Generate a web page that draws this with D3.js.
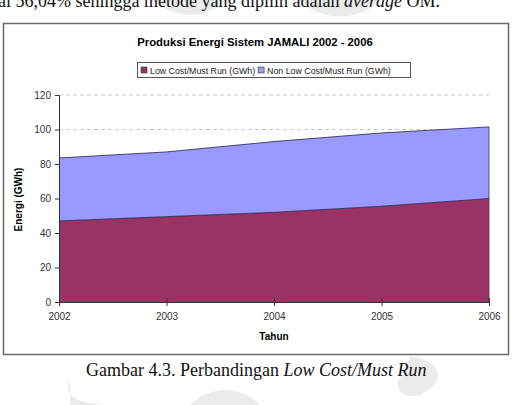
<!DOCTYPE html>
<html>
<head>
<meta charset="utf-8">
<script src="https://cdn.jsdelivr.net/npm/d3@7"></script>
<style>
  body { margin: 0; background: #fff; }
  svg { display: block; }
</style>
</head>
<body>
<div id="chart"></div>
<script>
// --- data ---
const years = [2002, 2003, 2004, 2005, 2006];
const lowCost = [47, 49.5, 52, 55.5, 60];
const nonLowCost = [36.5, 37.5, 41, 42.5, 41.5];
const yTicks = [0, 20, 40, 60, 80, 100, 120];
const seriesNames = ["Low Cost/Must Run (GWh)", "Non Low Cost/Must Run (GWh)"];
const colors = ["#993366", "#9999ff"];

const W = 524, H = 405;
const svg = d3.select("#chart").append("svg").attr("width", W).attr("height", H);

// faint watermark behind the page
const wm = svg.append("g").attr("fill", "#ebebeb");
wm.append("path").attr("d", "M150,0 C180,20 200,20 230,0 Z");
wm.append("path").attr("d", "M300,0 C320,22 360,22 380,0 Z");
wm.append("path").attr("d", "M70,380 C60,400 90,405 110,405 L70,405 Z");
wm.append("path").attr("d", "M410,356 C440,360 450,380 420,395 C400,400 390,385 405,372 Z");
wm.append("path").attr("d", "M190,405 C210,385 240,385 260,405 Z");

// text above chart (page text, cut by the page edge as in the scan)
svg.append("text").attr("x", -2).attr("y", 7)
  .style("font-family", "'Liberation Serif', 'Times New Roman', serif").style("font-size", "18px")
  .attr("fill", "#111")
  .html("al 56,04% sehingga metode yang dipilih adalah <tspan font-style='italic'>average</tspan> OM.");

// chart frame
svg.append("rect").attr("x", 3.5).attr("y", 23.5).attr("width", 505).attr("height", 331)
  .attr("fill", "#fff").attr("stroke", "#6a6a6a").attr("stroke-width", 1.5);

const m = { left: 59, right: 489, top: 95, bottom: 302 };
const x = d3.scaleLinear().domain([2002, 2006]).range([m.left, m.right]);
const y = d3.scaleLinear().domain([0, 120]).range([m.bottom, m.top]);

const font = "Arial, 'Liberation Sans', sans-serif";

// gridlines
svg.append("g").selectAll("line").data(yTicks.filter(d => d > 0)).join("line")
  .attr("x1", m.left).attr("x2", m.right)
  .attr("y1", d => y(d)).attr("y2", d => y(d))
  .attr("stroke", "#c8c8c8").attr("stroke-dasharray", "4,3");

// stacked areas
const rows = years.map((yr, i) => ({ year: yr, low: lowCost[i], non: nonLowCost[i] }));
const stack = d3.stack().keys(["low", "non"]);
const layers = stack(rows);
const area = d3.area().x(d => x(d.data.year)).y0(d => y(d[0])).y1(d => y(d[1]));
const topLine = d3.line().x(d => x(d.data.year)).y(d => y(d[1]));

svg.append("g").selectAll("path").data(layers).join("path")
  .attr("d", area).attr("fill", (d, i) => colors[i]);
svg.append("g").selectAll("path").data(layers).join("path")
  .attr("d", topLine).attr("fill", "none").attr("stroke", "#222244").attr("stroke-width", 0.8);
// right edge
svg.append("line").attr("x1", x(2006)).attr("x2", x(2006))
  .attr("y1", y(0)).attr("y2", y(lowCost[4] + nonLowCost[4]))
  .attr("stroke", "#333355").attr("stroke-width", 0.8);

// axes
const yAxis = svg.append("g").attr("transform", `translate(${m.left},0)`)
  .call(d3.axisLeft(y).tickValues(yTicks).tickSize(4).tickPadding(4));
const xAxis = svg.append("g").attr("transform", `translate(0,${m.bottom})`)
  .call(d3.axisBottom(x).tickValues(years).tickFormat(d3.format("d")).tickSize(4).tickPadding(7));
[yAxis, xAxis].forEach(a => {
  a.select(".domain").attr("stroke", "#333");
  a.selectAll(".tick line").attr("stroke", "#333");
  a.selectAll("text").style("font-family", font).style("font-size", "10px").attr("fill", "#333");
});
xAxis.selectAll(".tick line").attr("y1", -4).attr("y2", 4);

// titles
svg.append("text").attr("x", 255).attr("y", 46).attr("text-anchor", "middle")
  .style("font-family", font).style("font-size", "11.3px").style("font-weight", "bold")
  .text("Produksi Energi Sistem JAMALI 2002 - 2006");
svg.append("text").attr("x", (m.left + m.right) / 2).attr("y", 340).attr("text-anchor", "middle")
  .style("font-family", font).style("font-size", "10px").style("font-weight", "bold")
  .text("Tahun");
svg.append("text").attr("transform", `translate(22,${(m.top + m.bottom) / 2 + 1}) rotate(-90)`)
  .attr("text-anchor", "middle")
  .style("font-family", font).style("font-size", "10px").style("font-weight", "bold")
  .text("Energi (GWh)");

// legend
const lg = svg.append("g");
lg.append("rect").attr("x", 137.5).attr("y", 62.5).attr("width", 273).attr("height", 15)
  .attr("fill", "#fff").attr("stroke", "#555").attr("stroke-width", 1);
let lx = 141;
seriesNames.forEach((name, i) => {
  lg.append("rect").attr("x", lx).attr("y", 67).attr("width", 6).attr("height", 6)
    .attr("fill", colors[i]).attr("stroke", "#333").attr("stroke-width", 0.6);
  const t = lg.append("text").attr("x", lx + 9).attr("y", 73.5)
    .style("font-family", font).style("font-size", "8.8px").attr("fill", "#222").text(name);
  lx += 9 + t.node().getComputedTextLength() + 3;
});

// caption
svg.append("text").attr("x", 86).attr("y", 376)
  .style("font-family", "'Liberation Serif', 'Times New Roman', serif").style("font-size", "18px")
  .attr("fill", "#111")
  .html("Gambar 4.3. Perbandingan <tspan font-style='italic'>Low Cost/Must Run</tspan>");
</script>
</body>
</html>
